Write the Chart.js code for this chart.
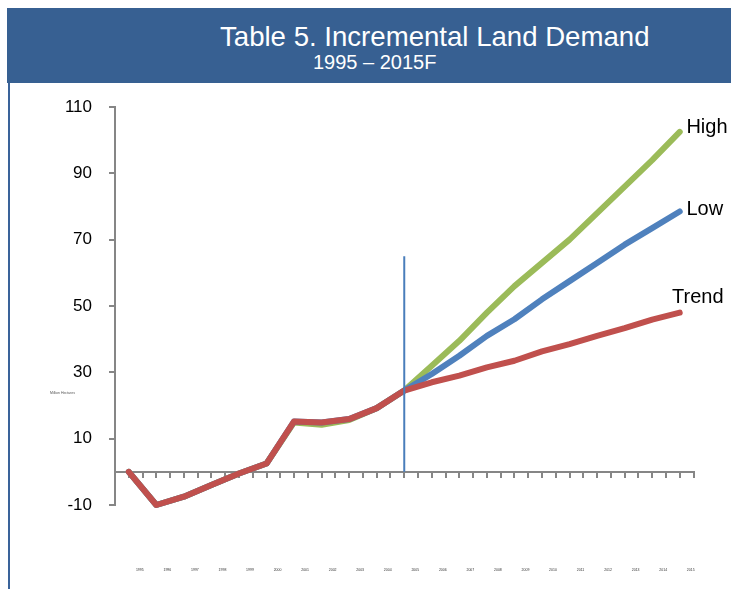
<!DOCTYPE html>
<html>
<head>
<meta charset="utf-8">
<script src="https://cdn.jsdelivr.net/npm/chart.js@4/dist/chart.umd.min.js"></script>
<style>
  html, body { margin:0; padding:0; background:#fff; width:731px; height:589px; overflow:hidden; }
  body { font-family: "Liberation Sans", Arial, sans-serif; position:relative; }
  #chart { position:absolute; left:0; top:0; }
  #header { position:absolute; left:7px; top:8px; width:724px; height:75px; background:#376092; }
  #leftline { position:absolute; left:8px; top:83px; width:2px; height:506px; background:#3a639a; }
  .t { position:absolute; color:#fff; white-space:nowrap; line-height:1; }
  #t1 { left:220px; top:23px; font-size:27.6px; }
  #t2 { left:313px; top:52px; font-size:20px; }
  #ylab { position:absolute; left:50px; top:392px; font-size:3.5px; color:#555; white-space:nowrap; line-height:1; }
</style>
</head>
<body>
<canvas id="chart" width="731" height="589"></canvas>
<div id="header"></div>
<div id="leftline"></div>
<div class="t" id="t1">Table 5. Incremental Land Demand</div>
<div class="t" id="t2">1995 – 2015F</div>
<div id="ylab">Million Hectares</div>
<script>
// ---- data ----
const years = [1995,1996,1997,1998,1999,2000,2001,2002,2003,2004,2005,2006,2007,2008,2009,2010,2011,2012,2013,2014,2015];
const trend = [0,-10,-7.5,-4,-0.5,2.5,15.2,14.9,15.9,19.2,24.5,27,29,31.5,33.5,36.3,38.5,41,43.3,45.9,48];
const high  = [0,-10,-7.5,-4,-0.5,2.5,14.9,14.2,15.6,19.2,24.5,32,39.5,48,56,63,70,78,86,94,102.5];
const low   = [0,-10,-7.5,-4,-0.5,2.5,15.2,14.9,15.9,19.2,24.5,29.5,35,41,46,52,57.5,63,68.5,73.5,78.5];
const seriesNames = ['High','Low','Trend'];
const markerYear = 2005;
const markerRange = [0, 65];
const yTicks = [-10,10,30,50,70,90,110];

const FONT = '"Liberation Sans", Arial, sans-serif';
const AXIS = '#868686';

function pts(arr){ return years.map((yr,i)=>({x:yr, y:arr[i]})); }
function noPad(s){ s.paddingTop = 0; s.paddingBottom = 0; s.paddingLeft = 0; s.paddingRight = 0; }

const labelDefs = [
  {ds:0, text:seriesNames[0], dx:6.7, dy:1},
  {ds:1, text:seriesNames[1], dx:6.7, dy:3.3},
  {ds:2, text:seriesNames[2], dx:-7.7, dy:-10}
];

const seriesLabels = {
  id:'seriesLabels',
  afterDatasetsDraw(chart){
    const ctx = chart.ctx;
    ctx.save();
    ctx.font = '20px ' + FONT;
    ctx.fillStyle = '#000';
    ctx.textBaseline = 'alphabetic';
    ctx.textAlign = 'left';
    labelDefs.forEach(d=>{
      const meta = chart.getDatasetMeta(d.ds);
      const p = meta.data[meta.data.length-1];
      ctx.fillText(d.text, p.x + d.dx, p.y + d.dy);
    });
    ctx.restore();
  }
};

const lineStyle = { borderWidth:6, pointRadius:0, pointHoverRadius:0, borderCapStyle:'round', borderJoinStyle:'round', tension:0, fill:false, clip:false, xAxisID:'x', yAxisID:'y' };

new Chart(document.getElementById('chart'), {
  type:'line',
  data:{
    datasets:[
      Object.assign({label:seriesNames[0], data:pts(high), borderColor:'#9BBB59', order:3}, lineStyle),
      Object.assign({label:seriesNames[1], data:pts(low), borderColor:'#4F81BD', order:2}, lineStyle),
      Object.assign({label:seriesNames[2], data:pts(trend), borderColor:'#C0504D', order:1}, lineStyle),
      {label:'marker', data:[{x:markerYear,y:markerRange[0]},{x:markerYear,y:markerRange[1]}], borderColor:'#4A7EBB', borderWidth:2, pointRadius:0, order:0, clip:false, xAxisID:'x', yAxisID:'y', borderCapStyle:'butt'}
    ]
  },
  options:{
    responsive:false,
    animation:false,
    events:[],
    layout:{ padding:{ left:0, right:37.5, top:107, bottom:16 } },
    plugins:{ legend:{display:false}, tooltip:{enabled:false}, title:{display:false} },
    scales:{
      x:{
        type:'linear', min:1994.5, max:2015.5, position:{y:0},
        afterBuildTicks: s => { const t=[]; for(let k=0;k<=42;k++){ t.push({value:1994.5 + k*0.5}); } s.ticks=t; },
        afterFit: s => { noPad(s); s.height = 0; },
        grid:{ drawOnChartArea:false, drawTicks:true, tickLength:5, color:AXIS, lineWidth:2 },
        border:{ display:true, color:AXIS, width:2 },
        ticks:{ display:false }
      },
      x2:{
        type:'linear', position:'bottom', min:1994.1, max:2015.1,
        afterBuildTicks: s => { s.ticks = years.map(v=>({value:v})); },
        afterFit: s => { noPad(s); s.height = 68; },
        grid:{ display:false, drawTicks:false },
        border:{ display:false },
        ticks:{ font:{family:FONT, size:3.5}, color:'#333', padding:63, maxRotation:0, minRotation:0, autoSkip:false, callback: v => String(v) }
      },
      y:{
        type:'linear', min:-10, max:110,
        afterBuildTicks: s => { s.ticks = yTicks.map(v=>({value:v})); },
        afterFit: s => { s.width = 115; noPad(s); },
        grid:{ drawOnChartArea:false, drawTicks:true, tickLength:6, color:AXIS, lineWidth:2 },
        border:{ display:true, color:AXIS, width:2 },
        ticks:{ color:'#000', font:{family:FONT, size:17}, padding:17 }
      }
    }
  },
  plugins:[seriesLabels]
});
</script>
</body>
</html>
